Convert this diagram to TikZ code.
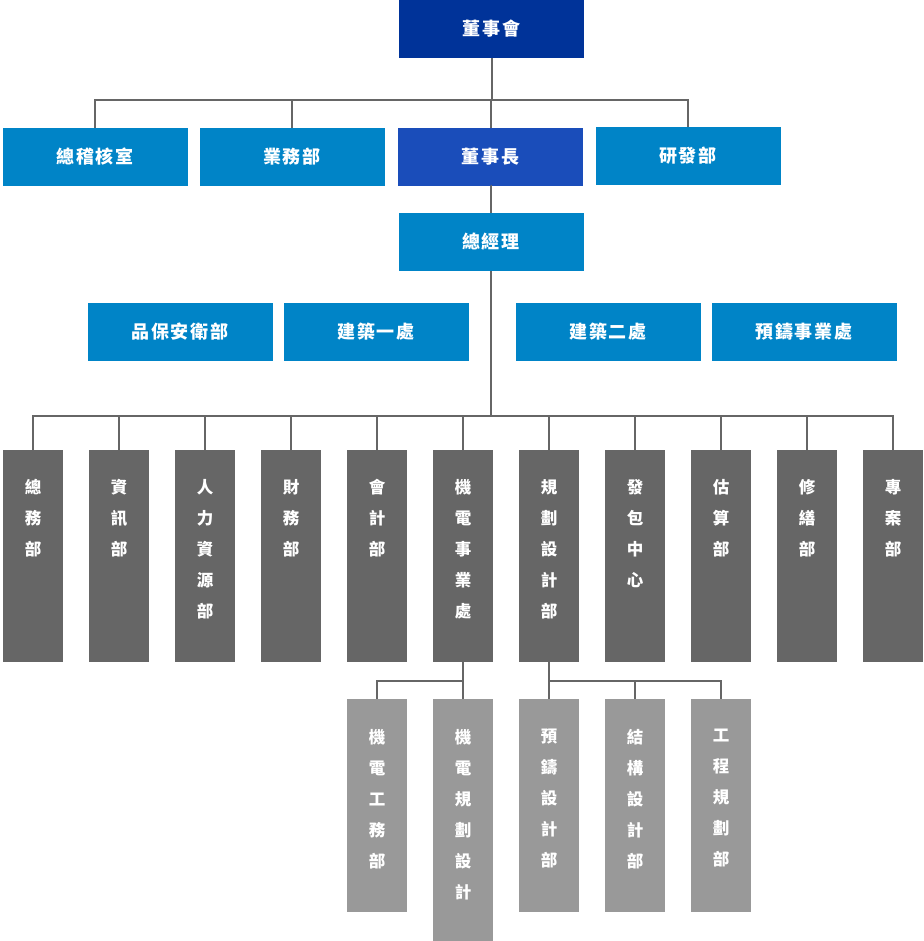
\documentclass[tikz,border=0pt]{standalone}
\usepackage{fontspec}
\setmainfont{Noto Sans CJK TC}
\newfontfamily\hfont[LetterSpace=10]{Noto Sans CJK TC}
\definecolor{cdark}{RGB}{0,51,153}
\definecolor{cchair}{RGB}{26,77,186}
\definecolor{cmid}{RGB}{0,132,199}
\definecolor{cgray}{RGB}{102,102,102}
\definecolor{clight}{RGB}{153,153,153}
\definecolor{cline}{RGB}{102,102,102}
\begin{document}
\begin{tikzpicture}[x=1pt,y=-1pt,
  hbox/.style={fill=#1, minimum width=185pt, minimum height=58pt, inner sep=0pt, text=white,
     font=\hfont\bfseries\fontsize{18}{18}\selectfont},
  vbox/.style={fill=#1, minimum width=60pt, inner sep=0pt, anchor=north},
  vtext/.style={text=white, anchor=north, align=center, inner sep=0pt,
     font=\bfseries\fontsize{16.5}{31}\selectfont},
  conn/.style={draw=cline, line width=2pt}]
\useasboundingbox (0,0) rectangle (923,941);

% top levels
\node[hbox=cdark] (bod) at (491.5,29) {董事會};
\node[hbox=cmid] (audit) at (95,157) {總稽核室};
\node[hbox=cmid] (sales) at (292,157) {業務部};
\node[hbox=cchair] (chair) at (490.5,157) {董事長};
\node[hbox=cmid] (rnd) at (688,156) {研發部};
\node[hbox=cmid] (gm) at (491,242) {總經理};
\node[hbox=cmid] (qa) at (180,332) {品保安衛部};
\node[hbox=cmid] (b1) at (376,332) {建築一處};
\node[hbox=cmid] (b2) at (608,332) {建築二處};
\node[hbox=cmid] (pre) at (804,332) {預鑄事業處};

\coordinate (bus1) at (0,100);
\draw[conn] (bod.south) -- (bod.south |- bus1);
\draw[conn] (audit.north) -- (audit.north |- bus1) -- (rnd.north |- bus1) -- (rnd.north);
\draw[conn] (sales.north) -- (sales.north |- bus1);
\draw[conn] (chair.north) -- (chair.north |- bus1);
\draw[conn] (chair.south) -- (chair.south -| gm.north) -- (gm.north);

% department row
\coordinate (bus2) at (0,416);
\foreach \n/\x/\t in {d1/33/{總\\務\\部}, d2/119/{資\\訊\\部}, d3/205/{人\\力\\資\\源\\部},
    d4/291/{財\\務\\部}, d5/377/{會\\計\\部}, d6/463/{機\\電\\事\\業\\處},
    d7/549/{規\\劃\\設\\計\\部}, d8/635/{發\\包\\中\\心}, d9/721/{估\\算\\部},
    d10/807/{修\\繕\\部}, d11/893/{專\\案\\部}} {
  \node[vbox=cgray, minimum height=212pt] (\n) at (\x,450) {};
  \node[vtext] (\n t) at (\x,479) {\t};
}
\draw[conn] (gm.south) -- (gm.south |- bus2);
\draw[conn] (d1.north) -- (d1.north |- bus2) -- (d11.north |- bus2) -- (d11.north);
\foreach \n in {d2,d3,d4,d5,d6,d7,d8,d9,d10} {
  \draw[conn] (\n.north) -- (\n.north |- bus2);
}

% sub departments
\node[vbox=clight, minimum height=213pt] (s1) at (377,699) {};
\node[vtext] (s1t) at (377,729) {機\\電\\工\\務\\部};
\node[vbox=clight, minimum height=242pt] (s2) at (463,699) {};
\node[vtext] (s2t) at (463,729) {機\\電\\規\\劃\\設\\計};
\node[vbox=clight, minimum height=213pt] (s3) at (549,699) {};
\node[vtext] (s3t) at (549,729) {預\\鑄\\設\\計\\部};
\node[vbox=clight, minimum height=213pt] (s4) at (635,699) {};
\node[vtext] (s4t) at (635,729) {結\\構\\設\\計\\部};
\node[vbox=clight, minimum height=213pt] (s5) at (721,699) {};
\node[vtext] (s5t) at (721,729) {工\\程\\規\\劃\\部};

\coordinate (bus3) at (0,681);
\draw[conn] (d6.south) -- (d6.south |- bus3) -- (s1.north |- bus3) -- (s1.north);
\draw[conn] (s2.north) -- (s2.north |- bus3);
\draw[conn] (d7.south) -- (d7.south |- bus3) -- (s5.north |- bus3) -- (s5.north);
\draw[conn] (s3.north) -- (s3.north |- bus3);
\draw[conn] (s4.north) -- (s4.north |- bus3);
\end{tikzpicture}
\end{document}
